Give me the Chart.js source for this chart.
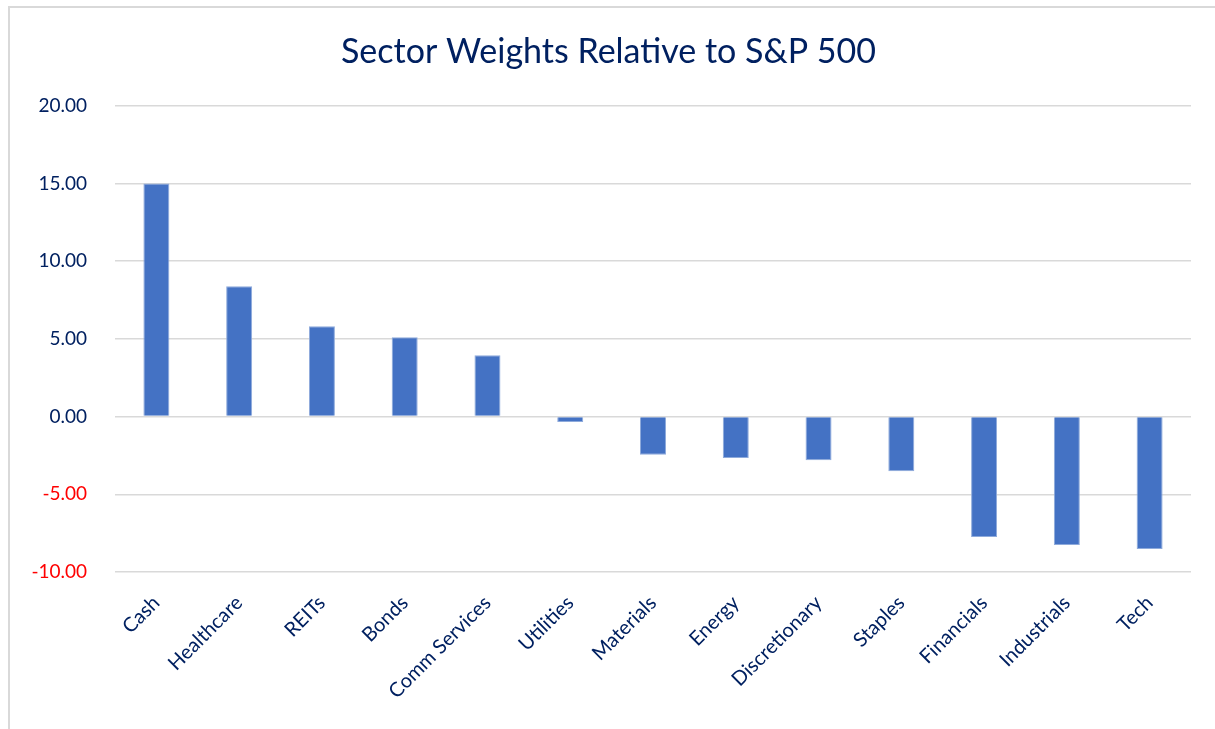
<html>
<head>
<title>Sector Weights Relative to S&amp;P 500</title>
<style>
  body { margin: 0; overflow: hidden; background: #fff; }
  #frame { position: absolute; left: 8px; top: 6px; width: 1220px; height: 800px; border: 2px solid #d9d9d9; box-sizing: border-box; }
  #myChart { position: absolute; left: 0; top: 0; }
</style>
</head>
<body>
<script src="https://cdn.jsdelivr.net/npm/chart.js@4.4.0/dist/chart.umd.min.js"></script>

<div id="frame"></div>
<canvas id="myChart" width="1215" height="729"></canvas>

<script type="text/javascript">
var sectors = ["Cash", "Healthcare", "REITs", "Bonds", "Comm Services", "Utilities", "Materials",
               "Energy", "Discretionary", "Staples", "Financials", "Industrials", "Tech"];
var weights = [15.0, 8.39, 5.81, 5.10, 3.94, -0.35, -2.45, -2.66, -2.81, -3.52, -7.75, -8.26, -8.52];
var yTicks = [-10, -5, 0, 5, 10, 15, 20];

var navy = "#002060";
var fontName = "Lato, 'Open Sans', sans-serif";

var ctx = document.getElementById("myChart").getContext("2d");

var myBarChart = new Chart(ctx, {
    type: 'bar',
    data: {
        labels: sectors,
        datasets: [{
            label: "Relative weight",
            data: weights,
            backgroundColor: "#4472c4",
            borderColor: "#8eaadb",
            borderWidth: 1,
            barPercentage: 0.314,
            categoryPercentage: 1.0
        }]
    },
    options: {
        responsive: false,
        animation: false,
        // some left padding pushes the title toward the frame centre (y labels get clipped past ~28px)
        layout: { padding: { left: 26, right: 24, top: 0, bottom: 0 } },
        plugins: {
            legend: { display: false },
            tooltip: { enabled: false },
            title: {
                display: true,
                text: "Sector Weights Relative to S&P 500",
                color: navy,
                font: { family: fontName, size: 34, weight: 'normal' },
                padding: { top: 32, bottom: 33 }
            }
        },
        scales: {
            x: {
                grid: { display: false },
                border: { display: false },
                ticks: {
                    color: navy,
                    font: { family: fontName, size: 20 },
                    minRotation: 45,
                    maxRotation: 45,
                    autoSkip: false,
                    padding: 11
                },
                afterFit: function(scale) { scale.height = 157; }
            },
            y: {
                min: yTicks[0],
                max: yTicks[yTicks.length - 1],
                afterBuildTicks: function(scale) {
                    scale.ticks = yTicks.map(function(v) { return {value: v}; });
                },
                grid: { color: "#d9d9d9", lineWidth: 1.5, drawTicks: false },
                border: { display: false },
                ticks: {
                    padding: 28,
                    font: { family: fontName, size: 19 },
                    color: function(c) { return c.tick.value < 0 ? "#ff0000" : navy; },
                    callback: function(v) { return Number(v).toFixed(2); }
                },
                afterFit: function(scale) { scale.width = 89; }
            }
        }
    }
});
</script>
</body>
</html>
